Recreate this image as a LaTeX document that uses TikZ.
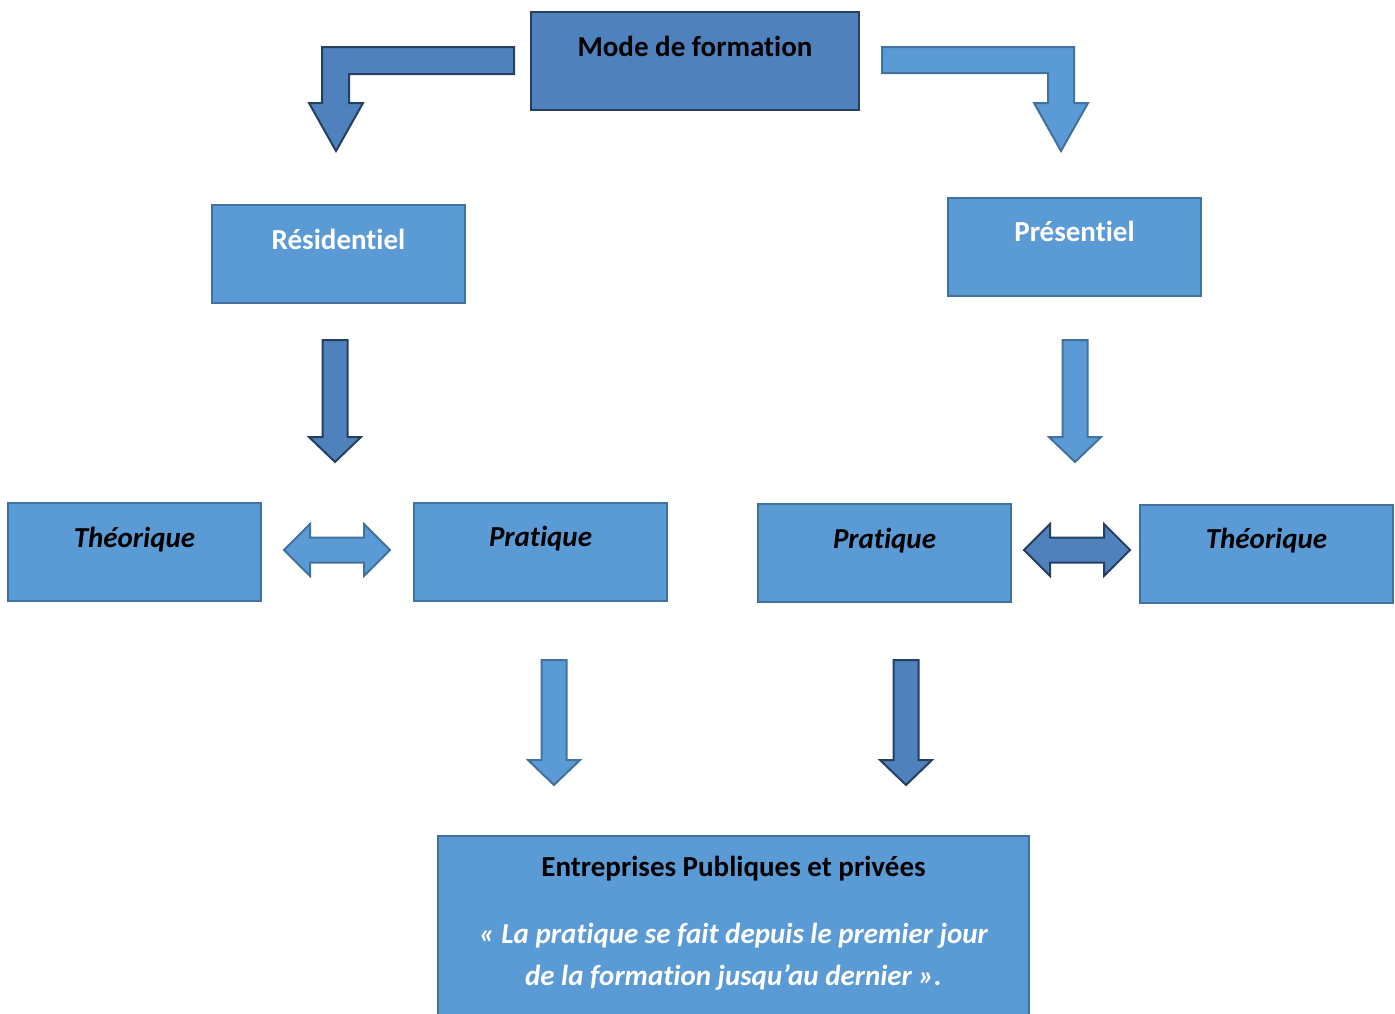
\documentclass[tikz,border=0pt]{standalone}
\usepackage{fontspec}
\setmainfont{Carlito}[Ligatures=NoCommon]
\definecolor{darkfill}{HTML}{4F81BD}
\definecolor{darkline}{HTML}{243F60}
\definecolor{lightfill}{HTML}{5B9BD5}
\definecolor{lightline}{HTML}{41719C}
% block arrow pointing down: style, x, top, head base, tip
\newcommand{\downblock}[5]{\draw[#1] (#2-12.5,#3) -- (#2+12.5,#3) -- (#2+12.5,#4) -- (#2+26,#4) -- (#2,#5) -- (#2-26,#4) -- (#2-12.5,#4) -- cycle;}
% double block arrow: style, left tip, left back, right back, right tip, y
\newcommand{\bothblock}[6]{\draw[#1] (#2,#6) -- (#3,#6-26) -- (#3,#6-12.5) -- (#4,#6-12.5) -- (#4,#6-26) -- (#5,#6) -- (#4,#6+26) -- (#4,#6+12.5) -- (#3,#6+12.5) -- (#3,#6+26) -- cycle;}
\begin{document}
\begin{tikzpicture}[x=0.5pt,y=-0.5pt,
	box/.style={rectangle,draw,line width=1pt,minimum width=126.5pt,inner sep=0pt,text height=22pt,text depth=27pt,font=\bfseries\fontsize{14.5}{21}\selectfont},
	lightbox/.style={box,fill=lightfill,draw=lightline},
	darkbox/.style={box,fill=darkfill,draw=darkline},
	lightarrow/.style={fill=lightfill,draw=lightline,line width=1pt},
	darkarrow/.style={fill=darkfill,draw=darkline,line width=1pt}]
	\clip (0,0) rectangle (1395,1013);
	
	\node[darkbox,minimum width=164pt] (mode) at (695,61) {Mode de formation};
	\node[lightbox,text=white] (res) at (338.5,254) {Résidentiel};
	\node[lightbox,text=white] (pres) at (1074.5,246.5) {Présentiel};
	\node[lightbox,font=\bfseries\itshape\fontsize{14.5}{21}\selectfont] (theo1) at (134.5,552) {Théorique};
	\node[lightbox,font=\bfseries\itshape\fontsize{14.5}{21}\selectfont] (prat1) at (540.5,551.5) {Pratique};
	\node[lightbox,font=\bfseries\itshape\fontsize{14.5}{21}\selectfont] (prat2) at (884.5,553) {Pratique};
	\node[lightbox,font=\bfseries\itshape\fontsize{14.5}{21}\selectfont] (theo2) at (1266.5,553.5) {Théorique};
	\node[lightbox,anchor=north,minimum width=295.5pt,text height=0pt,text depth=100pt] (ent) at (733.5,835) {};
	\node[anchor=north,align=center,inner sep=0pt,font=\bfseries\fontsize{14.5}{21}\selectfont] (enttext) at ([yshift=-10.5pt]ent.north) {Entreprises Publiques et privées\\[12.5pt]{\color{white}\itshape « La pratique se fait depuis le premier jour}\\{\color{white}\itshape de la formation jusqu’au dernier ».}};
	
	% bent arrows from mode de formation
	\draw[darkarrow] (514,47) -- (322,47) -- (322,103) -- (309,103) -- (336,151) -- (363,103) -- (349,103) -- (349,74) -- (514,74) -- cycle;
	\draw[lightarrow] (882,47) -- (1074,47) -- (1074,103) -- (1088,103) -- (1061,151) -- (1034,103) -- (1048,103) -- (1048,73) -- (882,73) -- cycle;
	
	\downblock{darkarrow}{335}{340}{437}{462}
	\downblock{lightarrow}{1075}{340}{437}{462}
	\bothblock{lightarrow}{284}{310}{364}{390}{550}
	\bothblock{darkarrow}{1024}{1050}{1104}{1130}{550}
	\downblock{lightarrow}{554}{660}{760}{785}
	\downblock{darkarrow}{906}{660}{760}{785}
\end{tikzpicture}
\end{document}
